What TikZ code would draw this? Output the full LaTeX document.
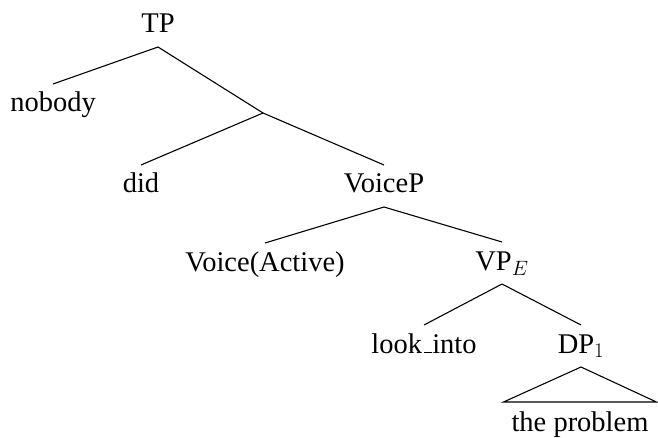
\documentclass[tikz,border=0pt]{standalone}
\usepackage{fontspec}
\setmainfont{Liberation Serif}
\newcommand{\uscore}{\kern.06em\vbox{\hrule width.3em height 1.1pt}}
\begin{document}
\begin{tikzpicture}[x=1pt,y=-1pt,
    lbl/.style={font=\fontsize{28.5}{34}\selectfont, anchor=base, inner sep=0pt,
      text height=20pt, text depth=6pt, outer xsep=0pt, outer ysep=8pt},
    edge/.style={black, line width=1.1pt}]
    \useasboundingbox (0,0) rectangle (658,438);
    \node [lbl] (tp) at (158,33) {TP};
    \node [lbl] (nobody) at (53,112) {nobody};
    \coordinate (tbar) at (263,113);
    \node [lbl] (did) at (141,193) {did};
    \node [lbl] (voicep) at (384,193) {VoiceP};
    \node [lbl] (voice) at (265,271) {Voice(Active)};
    \node [lbl] (vpe) at (502,270) {VP$_E$};
    \node [lbl] (look) at (424,353) {look\uscore into};
    \node [lbl] (dp) at (581,353) {DP$_1$};
    \node [lbl, inner xsep=8pt, outer ysep=9pt] (prob) at (580,431) {the problem};
    \draw [edge] (tp.south) -- (nobody.north);
    \draw [edge] (tp.south) -- (tbar);
    \draw [edge] (tbar) -- (did.north);
    \draw [edge] (tbar) -- (voicep.north);
    \draw [edge] (voicep.south) -- (voice.north);
    \draw [edge] (voicep.south) -- (vpe.north);
    \draw [edge] (vpe.south) -- (look.north);
    \draw [edge] (vpe.south) -- (dp.north);
    \draw [edge] (dp.south) -- (prob.north west) -- (prob.north east) -- cycle;
\end{tikzpicture}
\end{document}
